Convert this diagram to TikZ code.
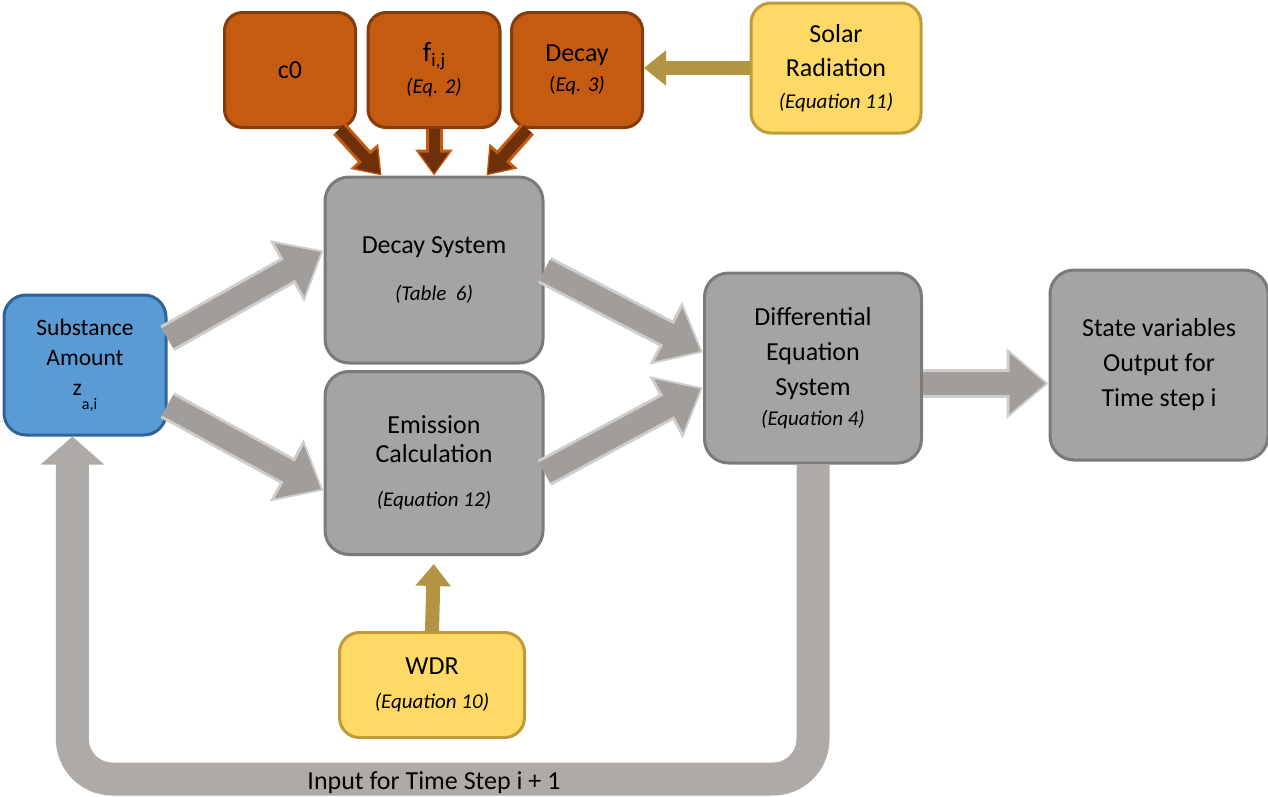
\documentclass[tikz,border=0pt]{standalone}
\usepackage{fontspec}
\setmainfont{Carlito}
\usetikzlibrary{arrows.meta,calc}
\newcommand{\Edge}{3pt}
\newcommand{\EqFont}{\fontsize{21}{26}\selectfont\itshape}
\definecolor{rust}{HTML}{C55A11}
\definecolor{rustdark}{HTML}{843C0C}
\definecolor{rustdeep}{HTML}{6E3009}
\definecolor{sand}{HTML}{FFD966}
\definecolor{sanddark}{HTML}{BF9A3A}
\definecolor{brass}{HTML}{B39442}
\definecolor{slate}{HTML}{A6A4A3}
\definecolor{slatedark}{HTML}{7C7A79}
\definecolor{sky}{HTML}{5B9BD5}
\definecolor{skydark}{HTML}{2F6496}
\definecolor{shaft}{HTML}{A09D9B}
\definecolor{shaftedge}{HTML}{CFCDCB}
\definecolor{ringgray}{HTML}{AEAAA8}

\begin{document}
\begin{tikzpicture}[x=1pt,y=-1pt, line join=round,
  box/.style={line width=\Edge, align=center, inner sep=0pt},
  greybox/.style={box, fill=slate, draw=slatedark, rounded corners=24pt,
    minimum width=218pt, minimum height=186pt, font=\fontsize{26}{35}\selectfont},
  rustbox/.style={box, fill=rust, draw=rustdark, rounded corners=18pt,
    minimum width=131pt, minimum height=115pt, font=\fontsize{26}{30}\selectfont},
  sandbox/.style={box, fill=sand, draw=sanddark, rounded corners=20pt,
    font=\fontsize{26}{34}\selectfont},
  skybox/.style={box, fill=sky, draw=skydark, rounded corners=22pt,
    minimum width=162pt, minimum height=140pt, font=\fontsize{23.5}{30}\selectfont},
  greyedge/.style={draw=shaftedge, line width=29pt, -{Triangle[width=68pt,length=42pt]}},
  greyfill/.style={draw=shaft, line width=23pt, -{Triangle[width=58pt,length=36pt]}, shorten >=3pt},
  rustedge/.style={draw=rust, line width=17pt, -{Triangle[width=36pt,length=26pt]}},
  rustfill/.style={draw=rustdeep, line width=11pt, -{Triangle[width=28pt,length=21pt]}, shorten >=2pt},
  brassarrow/.style={draw=brass, line width=14pt, -{Triangle[width=34pt,length=22pt]}},
  ring/.style={draw=ringgray, line width=33pt, rounded corners=40pt, -{Triangle[width=62pt,length=28pt]}}]

  \useasboundingbox (0,0) rectangle (1268,796);

  % ---- inputs along the top ------------------------------------------------
  \node[rustbox] (c0)    at (290,70) {c0};
  \node[rustbox, minimum width=132pt, font=\fontsize{28}{28}\selectfont]
                 (fij)   at (434,70) {f\raisebox{-5pt}{\fontsize{19}{19}\selectfont i,j}\\[4pt]{\EqFont (Eq. 2)}};
  \node[rustbox] (decay) at (577,70) {Decay\\{\fontsize{21}{26}\selectfont(\textit{Eq. 3)}}};
  \node[sandbox, minimum width=170pt, minimum height=130pt]
                 (solar) at (836,68) {\rule{0pt}{10pt}Solar\\Radiation\\[-2pt]{\EqFont (Equation 11)}};

  % ---- the two systems in the middle ---------------------------------------
  \node[greybox] (decsys) at (434,270) {Decay System\\[12pt]{\EqFont (Table\ \ 6)}};
  \node[greybox, minimum height=183pt, font=\fontsize{26}{29}\selectfont]
                 (emis)   at (434,463) {Emission\\Calculation\\[15pt]{\EqFont (Equation 12)}};
  \node[sandbox, minimum width=185pt, minimum height=105pt]
                 (wdr)    at (432,685) {WDR\\{\EqFont (Equation 10)}};

  % ---- left and right -------------------------------------------------------
  \node[skybox]  (subst) at (85,365)
    {Substance\\Amount\\z\raisebox{-14pt}{\fontsize{16}{16}\selectfont a,i}};
  \node[greybox, minimum width=217pt, minimum height=190pt]
                 (diff)  at (813,368) {\rule{0pt}{12pt}Differential\\Equation\\System\\[-5pt]{\EqFont (Equation 4)}};
  \node[greybox, minimum height=190pt]
                 (state) at (1159,365) {State variables\\Output for\\Time step i};

  % ---- block arrows, a pale rim under a darker body ------------------------
  \foreach \a/\b in {subst.18/decsys.170, subst.-26/emis.194,
                     decsys.east/diff.172, emis.-5/diff.190} {
    \draw[greyedge] (\a) -- (\b);
    \draw[greyfill] (\a) -- (\b);
  }
  \draw[greyedge] (diff.-8) -- (diff.-8 -| state.west);
  \draw[greyfill] (diff.-8) -- (diff.-8 -| state.west);

  \foreach \a/\b in {c0.-50/decsys.119, fij.south/decsys.north, decay.-130/decsys.61} {
    \draw[rustedge] (\a) -- (\b);
    \draw[rustfill] (\a) -- (\b);
  }

  \draw[brassarrow] (solar.west) -- (solar.west -| decay.east);
  \draw[brassarrow, shorten >=8pt] (wdr.north) -- (emis.south);

  % ---- feedback to the next time step ---------------------------------------
  \coordinate (loopbot) at (434,779);
  \draw[ring] (diff.south) |- (loopbot) -| (subst.-100);
  \node[anchor=base, font=\fontsize{26}{26}\selectfont] (nextstep) at (434,789)
    {Input for Time Step i + 1};

\end{tikzpicture}
\end{document}
